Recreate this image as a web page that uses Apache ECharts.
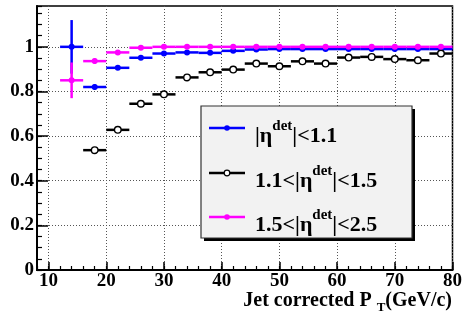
<!DOCTYPE html>
<html><head><meta charset="utf-8">
<script src="https://cdn.jsdelivr.net/npm/echarts@6/dist/echarts.min.js"></script>
<style>html,body{margin:0;padding:0;background:#fff}#c{width:465px;height:323px}</style>
</head><body><div id="c"></div>
<script>
// ---- data ----
const bins = [14,18,22,26,30,34,38,42,46,50,54,58,62,66,70,74,78];
const binHalfWidth = 2;
const blueVals = [1.00,0.82,0.906,0.951,0.970,0.975,0.973,0.982,0.988,0.990,0.990,0.990,0.990,0.990,0.990,0.990,0.990];
const blueErrs = [0.12,0.012,0.008,0.006,0.005,0.005,0.005,0.005,0.005,0.005,0.005,0.005,0.005,0.005,0.005,0.005,0.005];
const blackVals = [null,0.537,0.628,0.745,0.787,0.863,0.886,0.898,0.925,0.913,0.935,0.925,0.952,0.955,0.945,0.940,0.970];
const blackErrs = [null,0.012,0.010,0.008,0.007,0.006,0.006,0.006,0.006,0.006,0.006,0.006,0.006,0.006,0.006,0.006,0.006];
const magVals = [0.85,0.936,0.975,0.996,1.0,1.0,1.0,1.0,1.0,1.0,1.0,1.0,1.0,1.0,1.0,1.0,1.0];
const magErrs = [0.08,0.012,0.008,0.005,0.004,0.004,0.004,0.004,0.004,0.004,0.004,0.004,0.004,0.004,0.004,0.004,0.004];
const xMajorTicks = [10,20,30,40,50,60,70,80];
const yMajorTicks = [0,0.2,0.4,0.6,0.8,1];
const legendLabels = ['{t||η}{sup|det}{t||<1.1}','{t|1.1<|η}{sup|det}{t||<1.5}','{t|1.5<|η}{sup|det}{t||<2.5}'];

const FONT = 'Liberation Serif';
const xMin = 8, xMax = 80, yMin = 0, yMax = 1.183;

function makeSeries(name, vals, errs, color, open, z) {
  const data = [];
  bins.forEach((x, i) => { if (vals[i] != null) data.push([x, vals[i], errs[i]]); });
  return {
    type: 'custom', name: name, data: data, clip: true, z: z,
    xAxisIndex: 0, yAxisIndex: 0,
    renderItem: function (params, api) {
      const x = api.value(0), y = api.value(1), e = api.value(2);
      const l = api.coord([x - binHalfWidth, y]), r = api.coord([x + binHalfWidth, y]);
      const c = api.coord([x, y]);
      const t = api.coord([x, y + e]), b = api.coord([x, y - e]);
      return {
        type: 'group',
        children: [
          { type: 'line', shape: { x1: l[0], y1: l[1], x2: r[0], y2: r[1] }, style: { stroke: color, lineWidth: 2.5 } },
          { type: 'line', shape: { x1: t[0], y1: t[1], x2: b[0], y2: b[1] }, style: { stroke: color, lineWidth: 2.5 } },
          { type: 'circle', shape: { cx: c[0], cy: c[1], r: open ? 3.3 : 3 },
            style: open ? { fill: '#fff', stroke: color, lineWidth: 1.4 } : { fill: color } }
        ]
      };
    }
  };
}

const legendRows = [128, 173, 217];
const legendColors = ['#0000ff', '#000000', '#ff00ff'];
const graphics = [
  { type: 'rect', shape: { x: 204, y: 109, width: 211, height: 132 }, style: { fill: '#000' }, z: 100 },
  { type: 'rect', shape: { x: 201, y: 106, width: 211, height: 132 }, style: { fill: '#f2f2f2', stroke: '#333', lineWidth: 1.2 }, z: 101 }
];
legendRows.forEach((yy, i) => {
  graphics.push({ type: 'line', shape: { x1: 209, y1: yy, x2: 245, y2: yy }, style: { stroke: legendColors[i], lineWidth: 2.5 }, z: 102 });
  graphics.push({ type: 'circle', shape: { cx: 227, cy: yy, r: 2.8 },
    style: i === 1 ? { fill: '#fff', stroke: '#000', lineWidth: 1.2 } : { fill: legendColors[i] }, z: 103 });
  graphics.push({ type: 'text', x: 255, y: yy + 8, z: 103,
    style: { text: legendLabels[i], align: 'left', verticalAlign: 'middle',
      rich: {
        t: { fontFamily: FONT, fontWeight: 'bold', fontSize: 22, lineHeight: 34, verticalAlign: 'middle', fill: '#000' },
        sup: { fontFamily: FONT, fontWeight: 'bold', fontSize: 15, lineHeight: 15, verticalAlign: 'top', fill: '#000' }
      } } });
});
graphics.push({ type: 'text', x: 452, y: 301, z: 103,
  style: { text: '{a|Jet corrected P }{s|T}{a|(GeV/c)}', align: 'right', verticalAlign: 'middle',
    rich: {
      a: { fontFamily: FONT, fontWeight: 'bold', fontSize: 20, lineHeight: 26, verticalAlign: 'middle', fill: '#000' },
      s: { fontFamily: FONT, fontWeight: 'bold', fontSize: 13, lineHeight: 13, verticalAlign: 'bottom', fill: '#000' }
    } } });

const axisLbl = { fontFamily: FONT, fontWeight: 'bold', fontSize: 19, color: '#000' };
const dotted = { show: true, lineStyle: { color: '#555', type: [1, 2], width: 1 } };

const chart = echarts.init(document.getElementById('c'), null, { renderer: 'canvas' });
chart.setOption({
  animation: false,
  backgroundColor: '#fff',
  grid: { left: 37, right: 11, top: 6, bottom: 53, show: true, borderColor: '#000', borderWidth: 1.5, backgroundColor: 'transparent', containLabel: false },
  xAxis: [
    { type: 'value', min: xMin, max: xMax, interval: 2, position: 'bottom',
      axisLine: { show: true, onZero: false, lineStyle: { color: '#000', width: 2 } },
      axisTick: { show: true, inside: true, length: 4, lineStyle: { color: '#000', width: 1.2 } },
      axisLabel: { show: false }, splitLine: { show: false } },
    { type: 'value', min: xMin, max: xMax, position: 'bottom',
      axisLine: { show: false, onZero: false },
      axisTick: { show: true, inside: true, length: 8, customValues: xMajorTicks, lineStyle: { color: '#000', width: 1.5 } },
      axisLabel: Object.assign({ show: true, margin: 2, customValues: xMajorTicks }, axisLbl),
      splitLine: dotted }
  ],
  yAxis: [
    { type: 'value', min: yMin, max: yMax, interval: 0.05, position: 'left',
      axisLine: { show: true, onZero: false, lineStyle: { color: '#000', width: 2 } },
      axisTick: { show: true, inside: true, length: 5, lineStyle: { color: '#000', width: 1.2 } },
      axisLabel: { show: false }, splitLine: { show: false } },
    { type: 'value', min: yMin, max: yMax, position: 'left',
      axisLine: { show: false, onZero: false },
      axisTick: { show: true, inside: true, length: 11, customValues: yMajorTicks, lineStyle: { color: '#000', width: 1.5 } },
      axisLabel: Object.assign({ show: true, margin: 3, customValues: yMajorTicks }, axisLbl),
      splitLine: dotted }
  ],
  series: [
    makeSeries('blue', blueVals, blueErrs, '#0000ff', false, 2),
    makeSeries('black', blackVals, blackErrs, '#000000', true, 3),
    makeSeries('magenta', magVals, magErrs, '#ff00ff', false, 4)
  ],
  graphic: graphics
});
</script>
</body></html>
